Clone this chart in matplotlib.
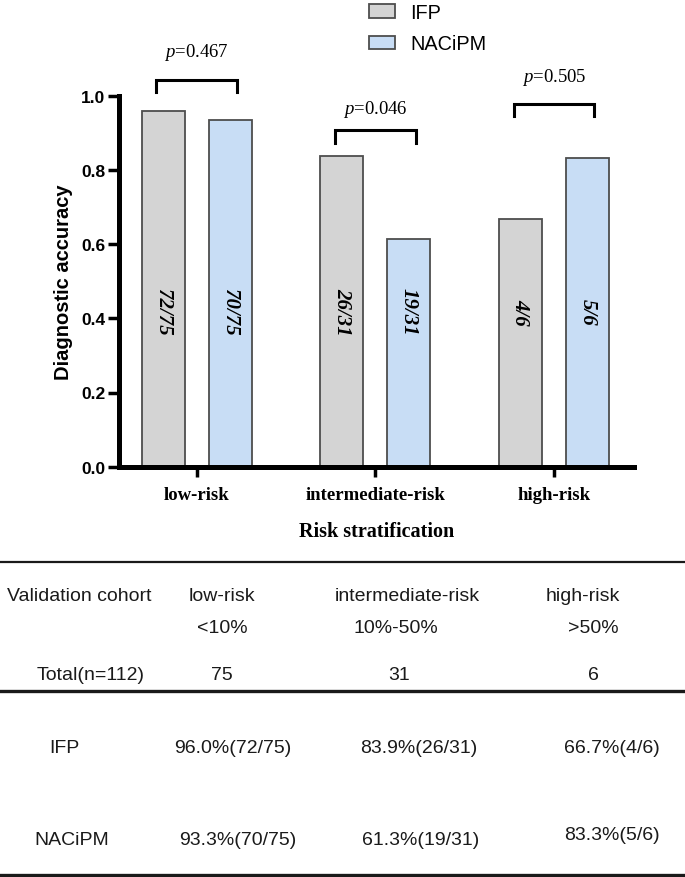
import matplotlib
matplotlib.use("Agg")
import matplotlib.pyplot as plt
import numpy as np

plt.rcParams['font.family'] = ['Liberation Sans', 'DejaVu Sans']
plt.rcParams['mathtext.fontset'] = 'custom'
plt.rcParams['mathtext.rm'] = 'Liberation Serif'
plt.rcParams['mathtext.it'] = 'Liberation Serif:italic'

# data
categories = ['low-risk', 'intermediate-risk', 'high-risk']
thresholds = ['<10%', '10%-50%', '>50%']
totals = [75, 31, 6]
ifp_correct = [72, 26, 4]
nacipm_correct = [70, 19, 5]
p_values = ['0.467', '0.046', '0.505']
series_names = ['IFP', 'NACiPM']

ifp_acc = np.array(ifp_correct) / np.array(totals)
nacipm_acc = np.array(nacipm_correct) / np.array(totals)

W, H = 685, 878
fig = plt.figure(figsize=(W / 100, H / 100), dpi=100)

# ---- bar chart ----
ax = fig.add_axes([119.3 / W, (H - 467.7) / H, (633.5 - 119.3) / W, 371 / H])
x = np.arange(len(categories))
off, bw = 0.1875, 0.24
gray, blue = '#d4d4d4', '#c8ddf5'
b1 = ax.bar(x - off, ifp_acc, bw, color=gray, edgecolor='#4d4d4d', linewidth=1.3, label=series_names[0])
b2 = ax.bar(x + off, nacipm_acc, bw, color=blue, edgecolor='#4d4d4d', linewidth=1.3, label=series_names[1])

ax.set_xlim(-0.4326, 2.445)
ax.set_ylim(0, 1.0)
ax.set_yticks([0, 0.2, 0.4, 0.6, 0.8, 1.0])
ax.set_yticklabels(['0.0', '0.2', '0.4', '0.6', '0.8', '1.0'], fontweight='bold', fontsize=12.5)
ax.set_xticks(x)
ax.set_xticklabels(categories, family='Liberation Serif', fontweight='bold', fontsize=13.5)
for s in ['top', 'right']:
    ax.spines[s].set_visible(False)
for s in ['left', 'bottom']:
    ax.spines[s].set_linewidth(3.6)
ax.tick_params(axis='y', length=8, width=2.5, pad=2)
ax.tick_params(axis='x', length=7, width=2.5, pad=7)
ax.set_ylabel('Diagnostic accuracy', fontsize=14.5, fontweight='bold', labelpad=6)
ax.set_xlabel('Risk stratification', family='Liberation Serif', fontweight='bold', fontsize=14.5, labelpad=13)

# fractions inside bars
label_y = 0.42
for xs, corr in [(x - off, ifp_correct), (x + off, nacipm_correct)]:
    for xi, c, t in zip(xs, corr, totals):
        ax.text(xi, label_y, f'{c}/{t}', rotation=270, ha='center', va='center',
                family='Liberation Serif', fontweight='bold', fontstyle='italic', fontsize=15)

# significance brackets
br_top = [1.043, 0.907, 0.977]
br_leg = [1.011, 0.873, 0.944]
p_y = [1.118, 0.966, 1.052]
for xi, yt, yl, py, pv in zip(x, br_top, br_leg, p_y, p_values):
    ax.plot([xi - 0.226, xi - 0.226, xi + 0.226, xi + 0.226], [yl, yt, yt, yl],
            color='black', lw=2.2, clip_on=False, solid_joinstyle='miter')
    ax.text(xi, py, r'$p$=' + pv, ha='center', va='center', family='Liberation Serif',
            fontsize=13.5, clip_on=False)

fig.legend(handles=[b1, b2], labels=series_names, loc='upper left',
           bbox_to_anchor=(368 / W, 1 - 3 / H), frameon=False, fontsize=14.3,
           handlelength=1.3, handleheight=0.66, handletextpad=0.78, labelspacing=0.62,
           borderaxespad=0, borderpad=0.05)

# ---- table ----
tax = fig.add_axes([0, 0, 1, 1], zorder=-1)
tax.set_xlim(0, W)
tax.set_ylim(H, 0)
tax.axis('off')
tc = '#1a1a1a'
fs = 14
tax.axhline(563, color=tc, lw=1.6)
tax.axhline(692, color=tc, lw=2.4)
tax.axhline(876, color=tc, lw=2.4)

col_head = [222, 407.6, 582.4]
col_thr = [222, 395.4, 593.3]
col_tot = [222, 398.9, 593.3]
col_ifp = [232.9, 418.5, 611.6]
col_nac = [238, 420.7, 611.6]

tax.text(79, 597, 'Validation cohort', ha='center', va='center', fontsize=fs, color=tc)
for cx, c in zip(col_head, categories):
    tax.text(cx, 597, c, ha='center', va='center', fontsize=fs, color=tc)
for cx, t in zip(col_thr, thresholds):
    tax.text(cx, 629, t, ha='center', va='center', fontsize=fs, color=tc)
tax.text(90.4, 676, f'Total(n={sum(totals)})', ha='center', va='center', fontsize=fs, color=tc)
for cx, t in zip(col_tot, totals):
    tax.text(cx, 676, str(t), ha='center', va='center', fontsize=fs, color=tc)

tax.text(64.7, 749, series_names[0], ha='center', va='center', fontsize=fs, color=tc)
for cx, c, t in zip(col_ifp, ifp_correct, totals):
    tax.text(cx, 749, f'{100 * c / t:.1f}%({c}/{t})', ha='center', va='center', fontsize=fs, color=tc)
tax.text(72, 841, series_names[1], ha='center', va='center', fontsize=fs, color=tc)
nac_y = [841, 841, 836]
for cx, cy, c, t in zip(col_nac, nac_y, nacipm_correct, totals):
    tax.text(cx, cy, f'{100 * c / t:.1f}%({c}/{t})', ha='center', va='center', fontsize=fs, color=tc)

fig.savefig('out.png', dpi=100)
